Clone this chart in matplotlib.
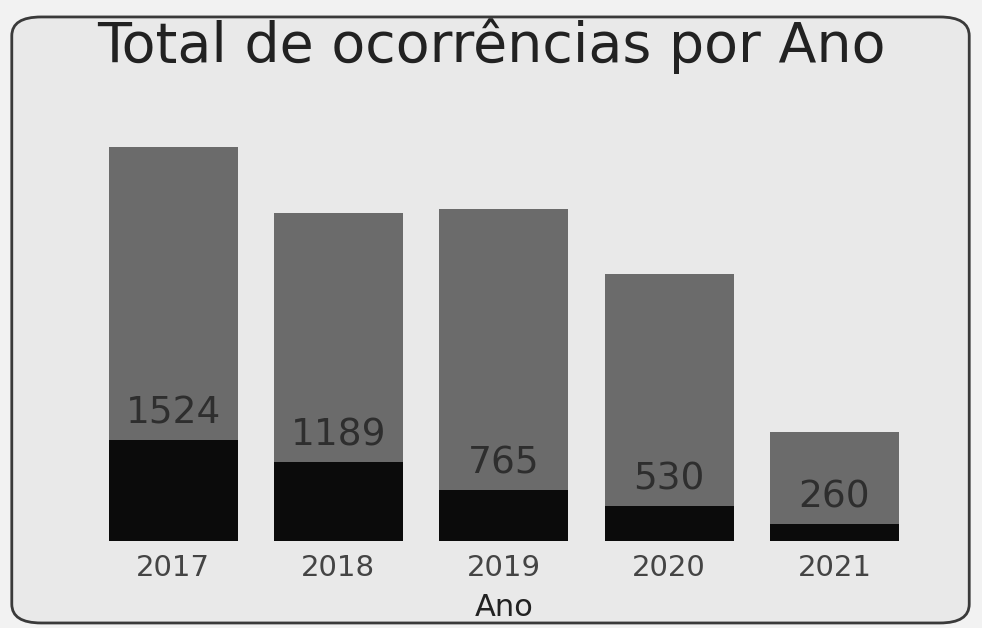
import matplotlib.pyplot as plt
from matplotlib.patches import FancyBboxPatch

# data
anos = ['2017', '2018', '2019', '2020', '2021']
totais = [5930, 4940, 5000, 4020, 1640]
ocorrencias = [1524, 1189, 765, 530, 260]

fig = plt.figure(figsize=(9.82, 6.28), dpi=100)
fig.patch.set_facecolor('#f2f2f2')

# rounded frame of the card
card = FancyBboxPatch((0.012, 0.008), 0.975, 0.965, boxstyle='round,pad=0,rounding_size=0.03',
                      transform=fig.transFigure, facecolor='#e9e9e9', edgecolor='#3a3a3a',
                      linewidth=2.0, zorder=-5)
fig.patches.append(card)

ax = fig.add_axes([0.092, 0.138, 0.842, 0.655])
ax.set_facecolor('none')
ax.set_zorder(2)

x = range(len(anos))
ax.bar(x, totais, width=0.78, color='#6b6b6b', zorder=2)
ax.bar(x, ocorrencias, width=0.78, color='#0b0b0b', zorder=3)

for i, v in enumerate(ocorrencias):
    ax.text(i, v + 130, str(v), ha='center', va='bottom', fontsize=27, color='#2e2e2e', zorder=4)

ax.set_xlim(-0.5, 4.5)
ax.set_ylim(0, 6190)
ax.set_xticks(list(x))
ax.set_xticklabels(anos, fontsize=21, color='#444444')
ax.tick_params(axis='x', length=0, pad=9)
ax.set_yticks([])
for s in ax.spines.values():
    s.set_visible(False)
ax.set_xlabel('Ano', fontsize=22, color='#222222', labelpad=8)

fig.text(0.5, 0.927, 'Total de ocorrências por Ano', ha='center', va='center',
         fontsize=40, color='#222222')

fig.savefig('out.png', dpi=100, facecolor=fig.get_facecolor())
